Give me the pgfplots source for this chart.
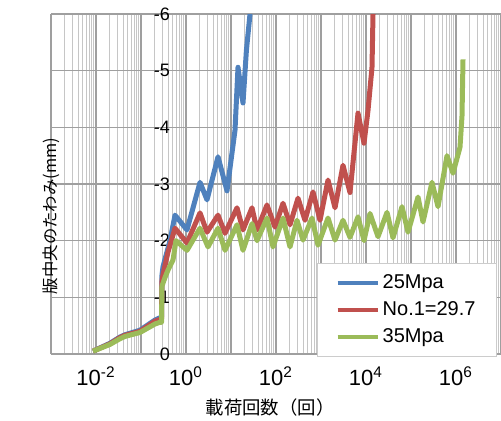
\documentclass[border=0pt]{standalone}
\usepackage{fontspec}
\setmainfont{Liberation Sans}
\newfontfamily\cjk{Noto Sans CJK JP}
\usepackage{pgfplots}
\pgfplotsset{compat=1.18}
\definecolor{cblue}{RGB}{79,129,189}
\definecolor{cred}{RGB}{192,80,77}
\definecolor{cgreen}{RGB}{155,187,89}
\begin{document}
\begin{tikzpicture}
\useasboundingbox (0,0) rectangle (250.5pt,210.5pt);
\begin{axis}[
  at={(25.5pt,33.5pt)}, anchor=south west,
  width=225pt, height=170pt, scale only axis,
  xmode=log, xmin=1e-3, xmax=1e7,
  ymin=-6, ymax=0, y dir=reverse,
  xtick={1e-3,1e-2,1e-1,1,1e1,1e2,1e3,1e4,1e5,1e6,1e7},
  xticklabels={{},10\textsuperscript{-2},{},10\textsuperscript{0},{},10\textsuperscript{2},{},10\textsuperscript{4},{},10\textsuperscript{6},{}},
  ytick={-6,-5,-4,-3,-2,-1,0},
  yticklabels={-6,-5,-4,-3,-2,-1,0},
  xticklabel style={font=\fontsize{11}{13}\selectfont, yshift=-3pt},
  yticklabel style={font=\fontsize{9}{11}\selectfont, anchor=east, xshift=63pt},
  major tick length=0pt, minor tick length=0pt,
  xmajorgrids, xminorgrids, ymajorgrids,
  major grid style={color=gray!75, line width=0.6pt},
  minor grid style={color=gray!45, line width=0.5pt},
  axis line style={gray!75},
  xlabel={\cjk 載荷回数（回）},
  ylabel={\cjk 版中央のたわみ(mm)},
  xlabel style={font=\fontsize{9.2}{11}\selectfont, at={(rel axis cs:0.4867,0)}, anchor=center, yshift=-27pt},
  ylabel style={font=\fontsize{8.2}{10}\selectfont, at={(rel axis cs:0,0.491)}, anchor=center, xshift=-14.5pt},
  legend style={at={(rel axis cs:0.991,0)}, anchor=south east, yshift=-1.5pt, draw=gray!40, fill=white,
    font=\fontsize{10}{12}\selectfont, inner xsep=9pt, inner ysep=3.5pt, row sep=1pt,
    nodes={inner xsep=1.5pt}},
  legend cell align=left,
  legend image code/.code={\draw[#1, line width=2.2pt] (0pt,0pt) -- (20pt,0pt);},
  every axis plot/.append style={line width=2.5pt, line join=round},
]
\addplot[cblue] coordinates {
(0.00858,-0.05) (0.02048,-0.19) (0.03415,-0.30) (0.04408,-0.34) (0.0950,-0.42) (0.1585,-0.54) (0.2047,-0.60) (0.2643,-0.64) (0.2855,-0.65) (0.2929,-1.40) (0.3083,-1.54) (0.4408,-2.00) (0.5699,-2.45) (1.052,-2.19) (2.048,-3.03) (2.929,-2.72) (5.142,-3.48) (8.15,-2.88) (12.27,-3.95) (14.31,-5.06) (16.0,-4.78) (18.48,-4.43) (22.0,-5.36) (26.44,-6.0) (28.0,-6.4)
};
\addlegendentry{25Mpa}
\addplot[cred] coordinates {
(0.00858,-0.05) (0.02048,-0.18) (0.03415,-0.29) (0.04408,-0.33) (0.0950,-0.40) (0.1585,-0.52) (0.2047,-0.58) (0.2643,-0.61) (0.2855,-0.62) (0.2929,-1.30) (0.3083,-1.40) (0.3981,-1.80) (0.5699,-2.22) (1.052,-1.96) (2.048,-2.49) (2.929,-2.15) (5.142,-2.45) (7.356,-2.13) (13.59,-2.58) (18.48,-2.19) (29.29,-2.58) (37.84,-2.19) (63.1,-2.63) (95.0,-2.24) (143.1,-2.66) (204.8,-2.28) (308.3,-2.75) (440.8,-2.36) (664,-2.86) (950,-2.36) (1431,-3.07) (2048,-2.58) (3083,-3.33) (4408,-2.85) (6640,-4.25) (9030,-3.72) (11080,-4.30) (13590,-5.06) (14310,-6.0) (15060,-6.4)
};
\addlegendentry{No.1=29.7}
\addplot[cgreen] coordinates {
(0.00858,-0.05) (0.02048,-0.17) (0.03415,-0.27) (0.04408,-0.31) (0.0950,-0.38) (0.1585,-0.48) (0.2047,-0.53) (0.2643,-0.56) (0.2855,-0.56) (0.2929,-1.20) (0.3415,-1.35) (0.3981,-1.48) (0.5142,-1.66) (0.5995,-2.00) (1.052,-1.83) (2.048,-2.22) (3.083,-1.89) (5.142,-2.22) (7.356,-1.83) (13.59,-2.28) (18.48,-1.83) (29.29,-2.30) (37.84,-2.00) (63.1,-2.40) (85.8,-1.89) (143.1,-2.40) (204.8,-1.89) (292.9,-2.36) (398.1,-2.01) (631,-2.40) (858,-1.92) (1431,-2.40) (2048,-2.01) (3083,-2.36) (4408,-2.06) (6640,-2.42) (9030,-2.00) (12270,-2.48) (18480,-2.07) (29290,-2.50) (39810,-2.05) (63100,-2.60) (85800,-2.15) (143100,-2.77) (184800,-2.33) (292900,-3.03) (398100,-2.60) (631000,-3.50) (858000,-3.19) (1227000,-3.65) (1359000,-4.20) (1431000,-5.20)
};
\addlegendentry{35Mpa}
\end{axis}
\end{tikzpicture}
\end{document}
